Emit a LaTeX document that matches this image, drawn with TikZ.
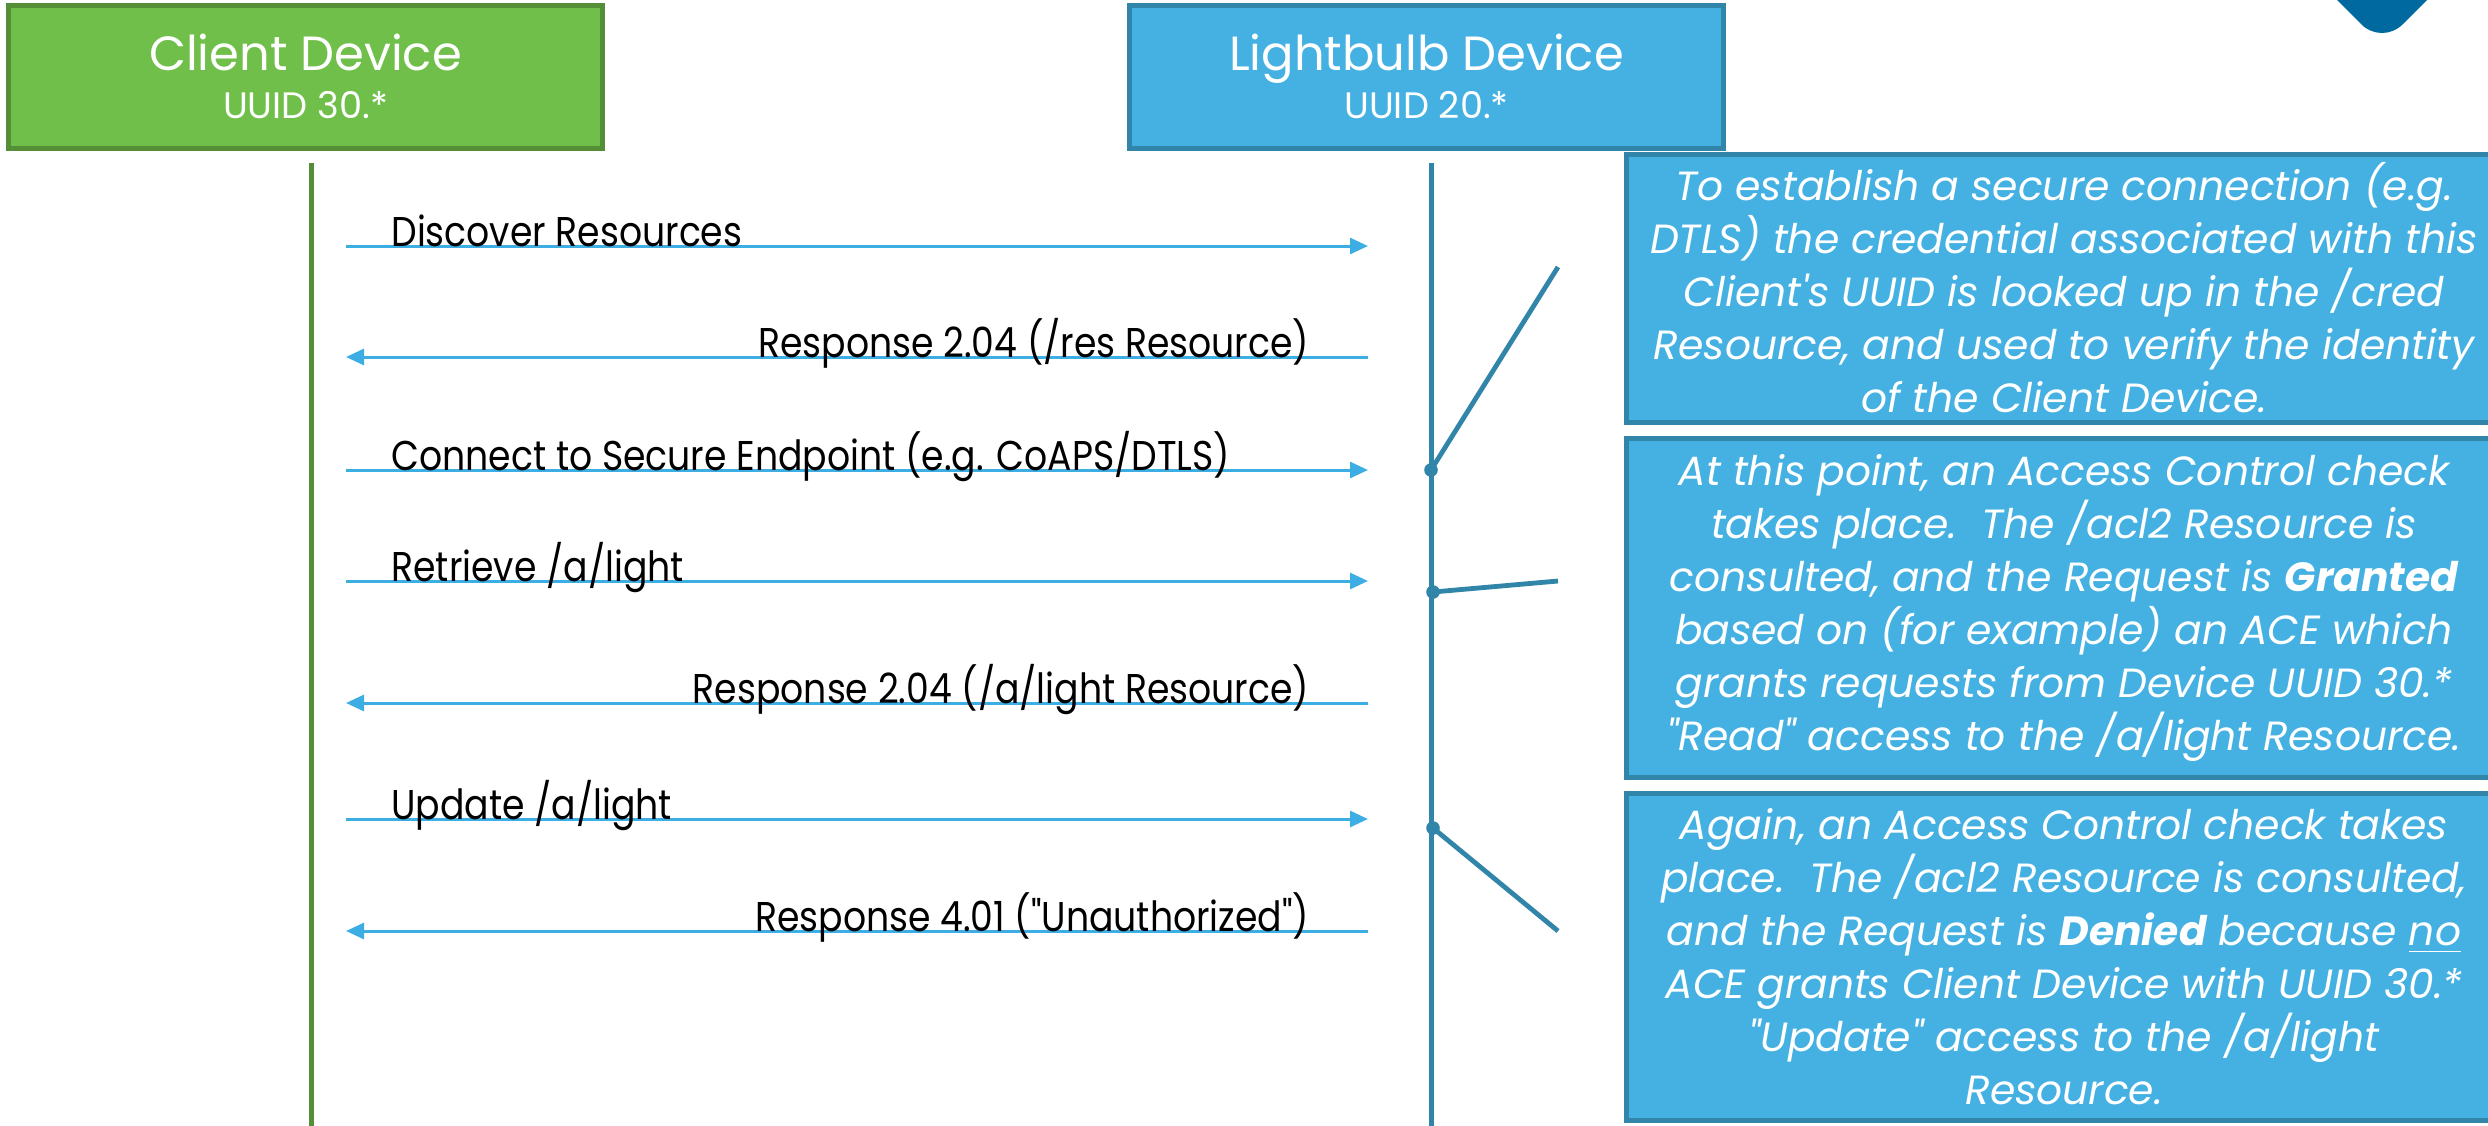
\documentclass[tikz,border=0pt]{standalone}
\usepackage{fontspec}
\setmainfont{Poppins}
\newfontfamily\msgfont{Poppins}[FakeStretch=0.87]
\usetikzlibrary{arrows.meta,positioning}

\definecolor{devgreen}{RGB}{112,191,74}
\definecolor{devgreenline}{RGB}{84,142,54}
\definecolor{bulbblue}{RGB}{69,177,226}
\definecolor{bulbline}{RGB}{49,133,168}
\definecolor{msgblue}{RGB}{61,174,227}
\definecolor{cornerblue}{RGB}{0,106,160}

\begin{document}
\begin{tikzpicture}[
    x=0.25pt, y=-0.25pt,
    device/.style={
        draw, line width=1.25pt,
        minimum width=148.5pt, minimum height=35.75pt,
        align=center, text=white, inner sep=0pt,
        font=\fontsize{12}{12}\selectfont
    },
    notebox/.style={draw=bulbline, fill=bulbblue, line width=1.25pt},
    note/.style={
        inner sep=0pt, align=center, text=white,
        font=\fontsize{10.2}{13.25}\selectfont\itshape
    },
    msg/.style={msgblue, line width=0.75pt, -{Triangle[length=4.5pt,width=4pt]}},
    lbl/.style={font=\msgfont\fontsize{10.4}{11}\selectfont, inner sep=0pt, text=black},
    dot/.style={circle, fill=bulbline, minimum size=3.4pt, inner sep=0pt},
    tick/.style={bulbline, line width=1.2pt}
]
\useasboundingbox (0,0) rectangle (2488,1126);
\clip (0,0) rectangle (2488,1126);

% corner mark
\fill[cornerblue, rounded corners=7.25pt] (2317,-20) -- (2382,45) -- (2447,-20) -- cycle;

% devices
\node[device, fill=devgreen, draw=devgreenline] (client) at (305.5,76.5)
    {Client Device\\{\fontsize{9.2}{10}\selectfont UUID 30.*}};
\node[device, fill=bulbblue, draw=bulbline] (bulb) at (1426.5,76.5)
    {Lightbulb Device\\{\fontsize{9.2}{10}\selectfont UUID 20.*}};

% lifelines
\coordinate (cTop) at (311,163);
\coordinate (cBot) at (311,1130);
\coordinate (lTop) at (1431,163);
\coordinate (lBot) at (1431,1130);
\draw[devgreenline, line width=1.25pt] (cTop) -- (cBot);
\draw[bulbline, line width=1.25pt] (lTop) -- (lBot);

\foreach \i/\y in {1/246, 2/357, 3/470, 4/581, 5/703, 6/819, 7/931} {
    \coordinate (c\i) at (346,\y);
    \coordinate (l\i) at (1368,\y);
}

% messages
\draw[msg] (c1) -- (l1) node[lbl, pos=0.043, anchor=base west] (m1) {Discover Resources};
\draw[msg] (l2) -- (c2) node[lbl, pos=0.056, anchor=base east] (m2) {Response 2.04 (/res Resource)};
\draw[msg] (c3) -- (l3) node[lbl, pos=0.043, anchor=base west] (m3) {Connect to Secure Endpoint (e.g. CoAPS/DTLS)};
\draw[msg] (c4) -- (l4) node[lbl, pos=0.043, anchor=base west] (m4) {Retrieve /a/light};
\draw[msg] (l5) -- (c5) node[lbl, pos=0.056, anchor=base east] (m5) {Response 2.04 (/a/light Resource)};
\draw[msg] (c6) -- (l6) node[lbl, pos=0.043, anchor=base west] (m6) {Update /a/light};
\draw[msg] (l7) -- (c7) node[lbl, pos=0.056, anchor=base east] (m7) {Response 4.01 ("Unauthorized")};

% notes (boxes run off the right edge)
\draw[notebox] (1626,154) rectangle (2560,422);
\draw[notebox] (1626,438) rectangle (2560,777);
\draw[notebox] (1626,793) rectangle (2560,1120);
\node[note] (n1) at (2064,288)
    {To establish a secure connection (e.g.\\
     DTLS) the credential associated with this\\
     Client\textquotesingle s UUID is looked up in the /cred\\
     Resource, and used to verify the identity\\
     of the Client Device.};
\node[note] (n2) at (2064,607.5)
    {At this point, an Access Control check\\
     takes place.\ \ The /acl2 Resource is\\
     consulted, and the Request is \textbf{Granted}\\
     based on (for example) an ACE which\\
     grants requests from Device UUID 30.*\\
     \textquotedbl Read\textquotedbl{} access to the /a/light Resource.};
\node[note] (n3) at (2064,956.5)
    {Again, an Access Control check takes\\
     place.\ \ The /acl2 Resource is consulted,\\
     and the Request is \textbf{Denied} because \underline{no}\\
     ACE grants Client Device with UUID 30.*\\
     \textquotedbl Update\textquotedbl{} access to the /a/light\\
     Resource.};

% callout ticks
\node[dot] (d1) at (1431,470) {};
\node[dot] (d2) at (1433,592) {};
\node[dot] (d3) at (1433,828) {};
\coordinate (t1) at (1558,267);
\coordinate (t2) at (1558,581);
\coordinate (t3) at (1558,931);
\draw[tick] (d1.center) -- (t1);
\draw[tick] (d2.center) -- (t2);
\draw[tick] (d3.center) -- (t3);
\end{tikzpicture}
\end{document}
